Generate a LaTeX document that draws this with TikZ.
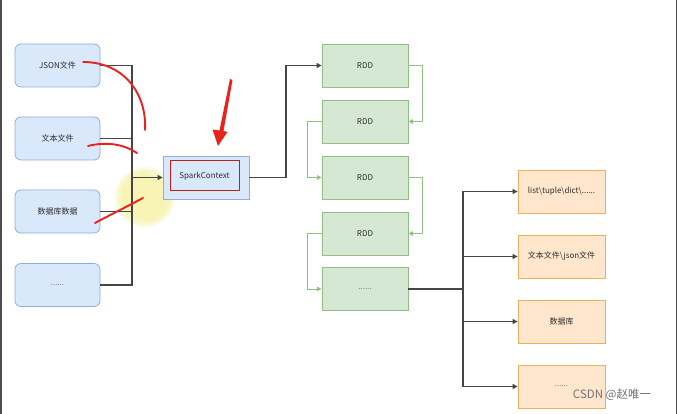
\documentclass[tikz,border=0pt]{standalone}
\usepackage{fontspec}
\setmainfont{Noto Sans CJK SC}
\usetikzlibrary{arrows.meta}
\definecolor{bfill}{HTML}{DAE8FC}
\definecolor{bline}{HTML}{8FAEDB}
\definecolor{gfill}{HTML}{D5E8D4}
\definecolor{gline}{HTML}{93BF85}
\definecolor{ofill}{HTML}{FFE6CC}
\definecolor{oline}{HTML}{E6B35C}
\definecolor{txt}{HTML}{2E2E2E}
\definecolor{cline}{HTML}{454545}
\definecolor{ann}{HTML}{E8231E}
\definecolor{hl}{HTML}{F7F3A8}
\begin{document}
\begin{tikzpicture}[x=1pt,y=-1pt,
  base/.style={minimum width=85pt,minimum height=43pt,inner sep=0pt,font=\fontsize{8}{9}\selectfont,text=txt},
  srcbox/.style={base,draw=bline,fill=bfill,rounded corners=6pt,line width=0.8pt},
  scbox/.style={base,draw=bline,fill=bfill,minimum width=86pt,line width=0.8pt},
  rddbox/.style={base,draw=gline,fill=gfill,minimum width=86pt,line width=0.8pt},
  outbox/.style={base,draw=oline,fill=ofill,minimum width=87pt,line width=0.8pt},
  conn/.style={draw=cline,line width=1.1pt},
  arr/.style={conn,-{Triangle[length=5pt,width=5pt]}},
  gconn/.style={draw=gline,line width=0.8pt,-{Triangle[length=4.5pt,width=4.5pt]}},
  redmark/.style={draw=ann,line width=1.9pt,line cap=round}
]
\useasboundingbox (0,0) rectangle (677,414);
\fill[white] (0,0) rectangle (677,414);
\fill[black!70] (0,0) rectangle (2,414);
\fill[black!70] (676,0) rectangle (677,414);

% soft highlight
\foreach \r in {30,28,26,24,22} {\fill[hl,opacity=0.3] (145,197) circle (\r);}

% source boxes
\node[srcbox] (json) at (57.5,65.5) {JSON文件};
\node[srcbox] (text) at (57.5,138.5) {文本文件};
\node[srcbox] (db) at (57.5,211.5) {数据库数据};
\node[srcbox] (more) at (57.5,285) {\textcolor{gray}{......}};

\node[scbox] (sc) at (206,177.5) {};
\node[draw=ann!85!black,line width=1pt,minimum width=69pt,minimum height=30pt,inner sep=0pt,font=\fontsize{8}{9}\selectfont,text=txt] (scin) at (204.5,176) {SparkContext};

\coordinate (bus) at (132,177.5);
\draw[conn] (json.east) -| (bus);
\draw[conn] (text.east) -| (bus);
\draw[conn] (db.east) -| (bus);
\draw[conn] (more.east) -| (bus);
\draw[arr] (bus) -- (sc.west);

% RDD chain
\node[rddbox] (r1) at (365,65.5) {RDD};
\node[rddbox] (r2) at (365,121.5) {RDD};
\node[rddbox] (r3) at (365,177.5) {RDD};
\node[rddbox] (r4) at (365,233.5) {RDD};
\node[rddbox] (r5) at (365,289) {\textcolor{gray}{......}};

\coordinate (k1) at (286,177.5);
\draw[arr] (sc.east) -- (k1) |- (r1.west);

\draw[gconn] (r1.east) -- ++(14,0) |- (r2.east);
\draw[gconn] (r2.west) -- ++(-14,0) |- (r3.west);
\draw[gconn] (r3.east) -- ++(14,0) |- (r4.east);
\draw[gconn] (r4.west) -- ++(-14,0) |- (r5.west);

% outputs
\node[outbox] (o1) at (561.5,191.5) {list\textbackslash tuple\textbackslash dict\textbackslash ......};
\node[outbox] (o2) at (561.5,256.5) {文本文件\textbackslash json文件};
\node[outbox] (o3) at (561.5,321.5) {数据库};
\node[outbox] (o4) at (561.5,386.5) {\textcolor{gray}{......}};

\coordinate (rb) at (463,289);
\draw[conn] (r5.east) -- (rb);
\draw[arr] (rb) |- (o1.west);
\draw[arr] (rb) |- (o2.west);
\draw[arr] (rb) |- (o3.west);
\draw[arr] (rb) |- (o4.west);

% red annotations
\draw[redmark] (83,62) .. controls (125,62) and (147,95) .. (145,130);
\draw[redmark] (88,146) .. controls (108,141) and (125,145) .. (137,153);
\draw[redmark] (95,223) .. controls (110,215) and (130,205) .. (143,198);
\fill[ann] (230,79) -- (232.5,80) -- (223.5,131) -- (227.5,132) -- (218,146) -- (212.5,129.5) -- (219.5,130.5) -- cycle;

% watermark
\node[text=black!55,font=\fontsize{11.5}{12}\selectfont,inner sep=0pt] (wm) at (612,395) {CSDN @赵唯一};
\end{tikzpicture}
\end{document}
